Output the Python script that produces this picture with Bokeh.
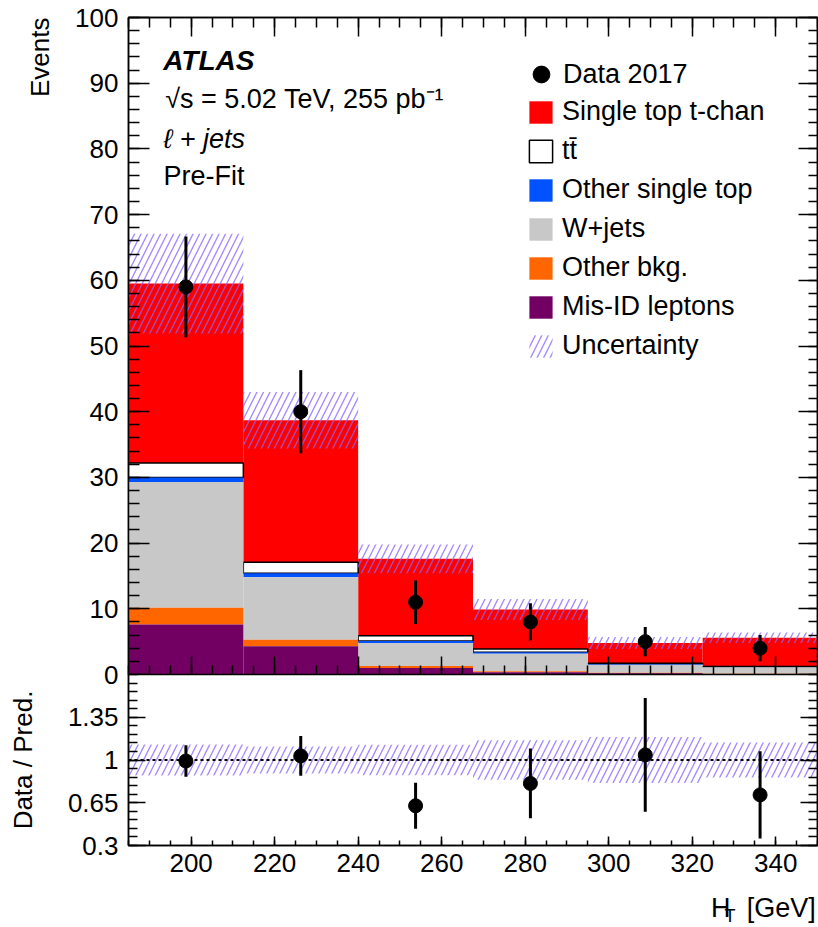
import numpy as np
from bokeh.plotting import figure
from bokeh.models import FixedTicker, LinearAxis, Label, Legend, LegendItem, Span, Range1d, Title
from bokeh.layouts import column
from bokeh.embed import file_html
from bokeh.resources import INLINE

# ---------------- data ----------------
bin_edges = [185.0, 212.5, 240.0, 267.5, 295.0, 322.5, 350.0]
data_counts = [59, 40, 11, 8, 5, 4]
misid = [7.6, 4.3, 1.0, 0.35, 0.2, 0.05]
other_bkg = [2.55, 1.0, 0.3, 0.15, 0.05, 0.05]
wjets = [19.15, 9.5, 3.5, 2.65, 1.25, 1.0]
other_single_top = [0.7, 0.6, 0.3, 0.25, 0.1, 0.05]
ttbar = [2.2, 1.7, 0.8, 0.5, 0.1, 0.05]
tchan = [27.3, 21.6, 11.7, 6.0, 3.1, 4.4]
pred_unc = [7.6, 4.3, 2.2, 1.6, 0.9, 0.8]

x_tick_labels = [200, 220, 240, 260, 280, 300, 320, 340]
y_tick_labels = [0, 10, 20, 30, 40, 50, 60, 70, 80, 90, 100]
ratio_tick_labels = [0.3, 0.65, 1.0, 1.35]
ratio_tick_text = ["0.3", "0.65", "1", "1.35"]

FONT = "Liberation Sans"
TICK_FS = "26px"
TEXT_FS = "27px"
OVERLAP = 16  # px by which the ratio canvas overlaps the main canvas (frames still abut)
XL_H = 80     # height of the x-title strip canvas
XL_OVERLAP = 40

# ---------------- derived quantities ----------------
edges = np.array(bin_edges)
left, right = edges[:-1], edges[1:]
centers = 0.5 * (left + right)
data = np.array(data_counts, dtype=float)
data_err = np.sqrt(data)

stack_order = [  # bottom -> top
    ("Mis-ID leptons", misid, "#720062", None),
    ("Other bkg.", other_bkg, "#ff6600", None),
    ("W+jets", wjets, "#c8c8c8", None),
    ("Other single top", other_single_top, "#0052ff", None),
    ("t\u0074\u0304", ttbar, "white", "black"),
    ("Single top t-chan", tchan, "#ff0000", None),
]
cum = np.zeros(len(data))
layers = []
for name, vals, col, lc in stack_order:
    b = cum.copy()
    cum = cum + np.array(vals)
    layers.append((name, b, cum.copy(), col, lc))
total = cum
unc = np.array(pred_unc)

HATCH = dict(fill_color=None, line_color=None, hatch_pattern="/",
             hatch_color="#8466ff", hatch_alpha=0.75, hatch_weight=1.4, hatch_scale=13)


def style_axis(ax, tin, tmin, labels=True, standoff=10):
    ax.major_tick_in = tin
    ax.major_tick_out = 0
    ax.minor_tick_in = tmin
    ax.minor_tick_out = 0
    ax.axis_line_color = "black"
    ax.axis_line_width = 1.5
    ax.major_tick_line_color = "black"
    ax.minor_tick_line_color = "black"
    ax.major_tick_line_width = 1.5
    ax.minor_tick_line_width = 1.5
    ax.major_label_text_font = FONT
    if labels:
        ax.major_label_text_color = "black"
        ax.major_label_text_font_size = TICK_FS
        ax.major_label_standoff = standoff
    else:
        ax.major_label_text_color = None
        ax.major_label_text_font_size = "1px"
        ax.major_label_standoff = 0


x_minor = list(np.arange(185, 351, 5))
y_minor = list(np.arange(0, 101, 2))
r_minor = list(np.round(np.arange(0.3, 1.71, 0.07), 2))

# ---------------- top panel ----------------
top = figure(width=818, height=674 + OVERLAP, x_range=Range1d(185, 350), y_range=Range1d(0, 100),
             output_backend="svg", toolbar_location=None,
             min_border_left=128, min_border_right=1, min_border_top=17,
             min_border_bottom=OVERLAP)
top.grid.visible = False
top.outline_line_color = "black"
top.outline_line_width = 1.5
top.background_fill_color = "white"
top.border_fill_color = "white"

top.xaxis.ticker = FixedTicker(ticks=x_tick_labels, minor_ticks=x_minor)
style_axis(top.xaxis[0], 18, 9, labels=False)
top.yaxis.ticker = FixedTicker(ticks=y_tick_labels, minor_ticks=y_minor)
style_axis(top.yaxis[0], 21, 11, labels=True, standoff=10)
top.add_layout(Title(text="Events", align="right", standoff=36, text_font=FONT,
                     text_font_size="26px", text_font_style="normal",
                     text_color="black"), "left")

ax_top = LinearAxis(ticker=FixedTicker(ticks=x_tick_labels, minor_ticks=x_minor))
style_axis(ax_top, 19, 10, labels=False)
top.add_layout(ax_top, "above")
ax_right = LinearAxis(ticker=FixedTicker(ticks=y_tick_labels, minor_ticks=y_minor))
style_axis(ax_right, 19, 9, labels=False)
top.add_layout(ax_right, "right")

renderers = {}
for name, b, t, col, lc in reversed(layers):
    r = top.quad(left=left, right=right, bottom=b, top=t, fill_color=col,
                 line_color=lc, line_width=1.5 if lc else 1)
    renderers[name] = r

r_unc = top.quad(left=left, right=right, bottom=total - unc, top=total + unc, **HATCH)
top.segment(x0=centers, y0=data - data_err, x1=centers, y1=data + data_err,
            line_color="black", line_width=3)
r_data = top.scatter(centers, data, size=14, color="black")

items = [LegendItem(label=name, renderers=[renderers[name]]) for name, *_ in reversed(layers)]
items.append(LegendItem(label="Uncertainty", renderers=[r_unc]))
leg = Legend(items=items, location=(398, 313), glyph_width=29, glyph_height=28,
             label_height=28, spacing=8, label_standoff=7, padding=0, margin=0,
             border_line_color=None, background_fill_alpha=0,
             label_text_font=FONT, label_text_font_size=TEXT_FS, label_text_color="black")
top.add_layout(leg)
leg_data = Legend(items=[LegendItem(label="Data 2017", renderers=[r_data])],
                  location=(392, 579), glyph_width=42, glyph_height=42, label_height=42,
                  label_standoff=1, padding=0, margin=0, border_line_color=None,
                  background_fill_alpha=0, label_text_font=FONT,
                  label_text_font_size=TEXT_FS, label_text_color="black")
top.add_layout(leg_data)

lab_kw = dict(text_font=FONT, text_color="black", text_baseline="alphabetic")
top.add_layout(Label(x=193.3, y=93.5, text="ATLAS", text_font_size="28px",
                     text_font_style="bold italic", **lab_kw))
top.add_layout(Label(x=193.8, y=87.6, text="\u221as = 5.02 TeV, 255 pb\u207b\u00b9",
                     text_font_size=TEXT_FS, **lab_kw))
top.add_layout(Label(x=193.4, y=81.5, text="\u2113 + jets", text_font_size=TEXT_FS,
                     text_font_style="italic", **lab_kw))
top.add_layout(Label(x=193.4, y=75.9, text="Pre-Fit", text_font_size=TEXT_FS, **lab_kw))

# ---------------- ratio panel ----------------
bot = figure(width=818, height=213, x_range=top.x_range, y_range=Range1d(0.3, 1.7),
             output_backend="svg", toolbar_location=None,
             min_border_left=128, min_border_right=1, min_border_top=0, min_border_bottom=42)
bot.margin = (-OVERLAP, 0, 0, 0)
bot.grid.visible = False
bot.outline_line_color = "black"
bot.outline_line_width = 1.5
bot.background_fill_color = "white"
bot.border_fill_alpha = 0

bot.xaxis.ticker = FixedTicker(ticks=x_tick_labels, minor_ticks=x_minor)
style_axis(bot.xaxis[0], 9, 5, labels=True, standoff=8)
bot.yaxis.ticker = FixedTicker(ticks=ratio_tick_labels, minor_ticks=r_minor)
style_axis(bot.yaxis[0], 17, 9, labels=True, standoff=10)
bot.yaxis.major_label_overrides = dict(zip(ratio_tick_labels, ratio_tick_text))
ya = bot.yaxis[0]
ya.axis_label = "Data / Pred."
ya.axis_label_text_font = FONT
ya.axis_label_text_font_size = "26px"
ya.axis_label_text_font_style = "normal"
ya.axis_label_text_color = "black"
ya.axis_label_standoff = 27
ax_r2 = LinearAxis(ticker=FixedTicker(ticks=ratio_tick_labels, minor_ticks=r_minor))
style_axis(ax_r2, 17, 9, labels=False)
bot.add_layout(ax_r2, "right")

ratio = data / total
ratio_err = data_err / total
rel_unc = unc / total
bot.quad(left=left, right=right, bottom=1 - rel_unc, top=1 + rel_unc, **HATCH)
bot.add_layout(Span(location=1.0, dimension="width", line_color="black",
                    line_width=2, line_dash="3 3"))
bot.segment(x0=centers, y0=ratio - ratio_err, x1=centers, y1=ratio + ratio_err,
            line_color="black", line_width=3)
bot.scatter(centers, ratio, size=14, color="black")

# ---------------- x-axis title strip (transparent, overlapping the ratio border) ----------------
xl = figure(width=818, height=XL_H, x_range=top.x_range, y_range=Range1d(0, 1),
            output_backend="svg", toolbar_location=None,
            x_axis_location=None, y_axis_location=None,
            min_border=0, min_border_left=128, min_border_right=1)
xl.margin = (-XL_OVERLAP, 0, 0, 0)
xl.grid.visible = False
xl.outline_line_color = None
xl.background_fill_alpha = 0
xl.border_fill_alpha = 0
xl.add_layout(Label(x=324.5, y=0.242, text="H", text_font_size=TEXT_FS, **lab_kw))
xl.add_layout(Label(x=327.7, y=0.147, text="T", text_font_size="18px", **lab_kw))
xl.add_layout(Label(x=349.6, y=0.242, text="[GeV]", text_align="right",
                    text_font_size=TEXT_FS, **lab_kw))

layout = column(top, bot, xl, spacing=0)
open("out.html", "w").write(file_html(layout, INLINE))
